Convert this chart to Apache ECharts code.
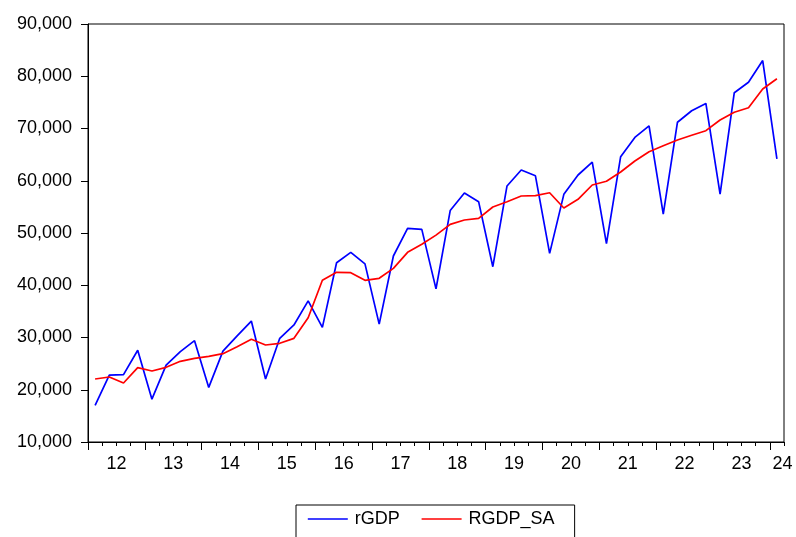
<!DOCTYPE html>
<html>
<head>
<meta charset="utf-8">
<script src="https://cdn.jsdelivr.net/npm/echarts@6/dist/echarts.min.js"></script>
<style>
html,body{margin:0;padding:0;background:#fff;}
#chart{width:796px;height:537px;}
</style>
</head>
<body>
<div id="chart"></div>
<script>
const quarters = ['2012Q1','2012Q2','2012Q3','2012Q4','2013Q1','2013Q2','2013Q3','2013Q4',
  '2014Q1','2014Q2','2014Q3','2014Q4','2015Q1','2015Q2','2015Q3','2015Q4',
  '2016Q1','2016Q2','2016Q3','2016Q4','2017Q1','2017Q2','2017Q3','2017Q4',
  '2018Q1','2018Q2','2018Q3','2018Q4','2019Q1','2019Q2','2019Q3','2019Q4',
  '2020Q1','2020Q2','2020Q3','2020Q4','2021Q1','2021Q2','2021Q3','2021Q4',
  '2022Q1','2022Q2','2022Q3','2022Q4','2023Q1','2023Q2','2023Q3','2023Q4',
  '2024Q1'];
const rGDP = [17000, 22800, 22900, 27550, 18200, 24700, 27300, 29400,
  20450, 27400, 30300, 33150, 22050, 29850, 32400, 37000,
  31950, 44300, 46300, 44100, 32550, 45600, 50900, 50700,
  39300, 54300, 57650, 56000, 43550, 59000, 62050, 60950,
  46100, 57400, 61100, 63550, 47950, 64600, 68300, 70500,
  53600, 71200, 73400, 74800, 57450, 76850, 78850, 83000,
  64200];
const RGDP_SA = [22060, 22440, 21290, 24220, 23590, 24290, 25440, 26010,
  26400, 26900, 28240, 29650, 28570, 28890, 29840, 33790,
  40950, 42480, 42410, 40940, 41330, 43240, 46300, 47840,
  49600, 51660, 52490, 52810, 54980, 55990, 57080, 57140,
  57700, 54790, 56450, 59190, 59900, 61680, 63780, 65560,
  66700, 67800, 68700, 69580, 71630, 73100, 73980, 77560,
  79530];
const yearLabels = ['12','13','14','15','16','17','18','19','20','21','22','23','24'];
const yTicks = [10000, 20000, 30000, 40000, 50000, 60000, 70000, 80000, 90000];

// quarter index -> x position (center of the quarter slot)
const n = quarters.length;
const toPairs = arr => arr.map((v, i) => [i + 0.5, v]);
const yearStarts = [];
for (let i = 0; i < n; i++) if (quarters[i].endsWith('Q1')) yearStarts.push(i);
const quarterBounds = [];
for (let i = 0; i <= n; i++) quarterBounds.push(i);
const labelPos = yearLabels.map((y, k) => {
  const start = yearStarts[k];
  return (start + 4 <= n) ? start + 2 : n - 0.1;
});
const labelMap = {};
labelPos.forEach((p, k) => { labelMap[p.toFixed(2)] = yearLabels[k]; });

const font = 'Arial, "Liberation Sans", sans-serif';
const chart = echarts.init(document.getElementById('chart'));
chart.setOption({
  animation: false,
  backgroundColor: '#fff',
  grid: {
    left: 88, right: 12, top: 24, bottom: 95,
    show: true, borderColor: '#000', borderWidth: 1, backgroundColor: 'transparent'
  },
  xAxis: [{
    type: 'value', min: 0, max: n, position: 'bottom',
    axisLine: { show: true, lineStyle: { color: '#000', width: 1 } },
    axisTick: { show: true, customValues: yearStarts, length: 8, lineStyle: { color: '#000', width: 1 } },
    axisLabel: {
      show: true, customValues: labelPos, margin: 13,
      formatter: v => labelMap[Number(v).toFixed(2)] || '',
      color: '#000', fontSize: 18, fontFamily: font
    },
    splitLine: { show: false }
  }, {
    type: 'value', min: 0, max: n, position: 'bottom',
    axisLine: { show: false },
    axisTick: { show: true, customValues: quarterBounds, length: 4, lineStyle: { color: '#000', width: 1 } },
    axisLabel: { show: false },
    splitLine: { show: false }
  }],
  yAxis: {
    type: 'value', min: yTicks[0], max: yTicks[yTicks.length - 1], interval: 10000,
    axisLine: { show: true, lineStyle: { color: '#000', width: 1 } },
    axisTick: { show: true, length: 7, lineStyle: { color: '#000' } },
    axisLabel: {
      margin: 16, color: '#000', fontSize: 18, fontFamily: font,
      formatter: v => v.toLocaleString('en-US')
    },
    splitLine: { show: false }
  },
  legend: {
    left: 296, top: 505,
    orient: 'horizontal',
    itemWidth: 40, itemHeight: 18, itemGap: 21,
    padding: [5, 20, 22, 11],
    borderColor: '#000', borderWidth: 1,
    itemStyle: { color: 'transparent', borderColor: 'transparent', borderWidth: 0, opacity: 0 },
    lineStyle: { width: 1.6 },
    textStyle: { color: '#000', fontSize: 18, fontFamily: font, padding: [0, 0, 0, 2] },
    data: ['rGDP', 'RGDP_SA']
  },
  series: [{
    name: 'rGDP', type: 'line', xAxisIndex: 0, data: toPairs(rGDP),
    symbol: 'none', lineStyle: { color: '#0000FF', width: 1.7 }, itemStyle: { color: '#0000FF' }
  }, {
    name: 'RGDP_SA', type: 'line', xAxisIndex: 0, data: toPairs(RGDP_SA),
    symbol: 'none', lineStyle: { color: '#FF0000', width: 1.7 }, itemStyle: { color: '#FF0000' }
  }]
});
</script>
</body>
</html>
